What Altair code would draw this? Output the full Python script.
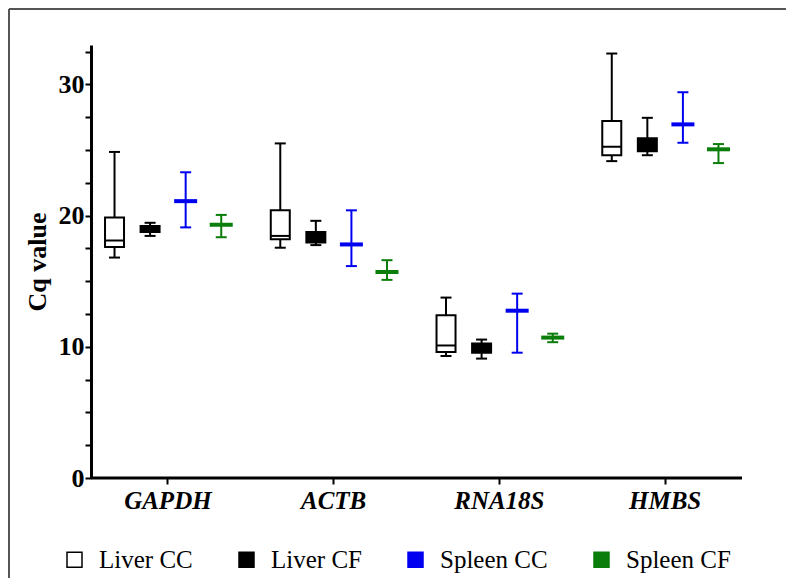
import altair as alt
import pandas as pd

genes = ["GAPDH", "ACTB", "RNA18S", "HMBS"]
groups = ["Liver CC", "Liver CF", "Spleen CC", "Spleen CF"]

# values per group, in gene order (GAPDH, ACTB, RNA18S, HMBS)
liver_cc_min = [16.8, 17.55, 9.3, 24.15]
liver_cc_q1 = [17.6, 18.2, 9.6, 24.6]
liver_cc_med = [18.1, 18.45, 10.1, 25.25]
liver_cc_q3 = [19.85, 20.4, 12.4, 27.2]
liver_cc_max = [24.85, 25.5, 13.75, 32.35]

liver_cf_min = [18.45, 17.75, 9.1, 24.6]
liver_cf_q1 = [18.75, 17.95, 9.55, 24.9]
liver_cf_med = [19.0, 18.35, 9.9, 25.4]
liver_cf_q3 = [19.2, 18.75, 10.25, 25.9]
liver_cf_max = [19.45, 19.6, 10.55, 27.45]

spleen_cc_low = [19.1, 16.15, 9.55, 25.55]
spleen_cc_mean = [21.1, 17.8, 12.75, 26.95]
spleen_cc_high = [23.3, 20.4, 14.05, 29.4]

spleen_cf_low = [18.35, 15.1, 10.35, 24.0]
spleen_cf_mean = [19.3, 15.7, 10.7, 25.05]
spleen_cf_high = [20.05, 16.6, 11.0, 25.45]

y_ticks = [0, 2.5, 5, 7.5, 10, 12.5, 15, 17.5, 20, 22.5, 25, 27.5, 30, 32.5]

stroke_colors = ["#000000", "#000000", "#0000f0", "#0a7d0a"]
fill_colors = ["#ffffff", "#000000", "#0000f0", "#0a7d0a"]

rows = []
series = [
    ("Liver CC", liver_cc_min, liver_cc_q1, liver_cc_med, liver_cc_q3, liver_cc_max),
    ("Liver CF", liver_cf_min, liver_cf_q1, liver_cf_med, liver_cf_q3, liver_cf_max),
    ("Spleen CC", spleen_cc_low, spleen_cc_mean, spleen_cc_mean, spleen_cc_mean, spleen_cc_high),
    ("Spleen CF", spleen_cf_low, spleen_cf_mean, spleen_cf_mean, spleen_cf_mean, spleen_cf_high),
]
for k, (name, lo, q1, c, q3, hi) in enumerate(series):
    for i, g in enumerate(genes):
        rows.append({"gene": g, "group": name, "low": lo[i], "q1": q1[i],
                     "center": c[i], "q3": q3[i], "high": hi[i],
                     "col": stroke_colors[k],
                     "kind": "box" if name.startswith("Liver") else "mean"})
df = pd.DataFrame(rows)

W, H = 651, 433
SERIF = "Liberation Serif"

x_enc = alt.X("gene:N", sort=genes,
              scale=alt.Scale(domain=genes, range=[-6, 657], paddingInner=0, paddingOuter=0),
              axis=alt.Axis(title=None, domain=False, ticks=True, tickSize=6, tickWidth=2,
                            tickColor="black", labelAngle=0, labelFont=SERIF,
                            labelFontSize=25, labelFontWeight="bold", labelFontStyle="italic",
                            labelColor="black", labelPadding=4))
xo_enc = alt.XOffset("group:N", sort=groups,
                     scale=alt.Scale(domain=groups, paddingInner=0, paddingOuter=0.33))

y_axis = alt.Axis(values=y_ticks, labelExpr="datum.value % 10 === 0 ? datum.label : ''",
                  grid=False, domainWidth=3, domainColor="black", tickColor="black",
                  tickWidth=2, tickSize=6, labelFont=SERIF, labelFontSize=26,
                  labelFontWeight="bold", labelColor="black", labelPadding=1,
                  titleFont=SERIF, titleFontSize=26, titleFontWeight="bold",
                  titleColor="black", titlePadding=8)
y_scale = alt.Scale(domain=[0, 33], nice=False, zero=True)

def Y(field):
    return alt.Y(f"{field}:Q", scale=y_scale, axis=y_axis, title="Cq value")

color_enc = alt.Color("col:N", scale=None)

base = alt.Chart(df)

whisker = base.mark_rule(strokeWidth=2, opacity=1).encode(
    x=x_enc, xOffset=xo_enc, y=Y("low"), y2="high", color=color_enc)

cap_lo = base.mark_tick(size=11, thickness=2, opacity=1).encode(
    x=x_enc, xOffset=xo_enc, y=Y("low"), color=color_enc)
cap_hi = base.mark_tick(size=11, thickness=2, opacity=1).encode(
    x=x_enc, xOffset=xo_enc, y=Y("high"), color=color_enc)

legend = alt.Legend(orient="none", legendX=-29, legendY=502, direction="horizontal",
                    columns=4, symbolType="square", symbolSize=225, symbolStrokeWidth=1.5,
                    labelFont=SERIF, labelFontSize=25, labelColor="black", labelOffset=12,
                    columnPadding=41, gridAlign="each", symbolOpacity=1)

box = base.mark_bar(width=19, strokeWidth=2, opacity=1).transform_filter(
    alt.datum.kind == "box").encode(
    x=x_enc, xOffset=xo_enc, y=Y("q1"), y2="q3",
    fill=alt.Fill("group:N", scale=alt.Scale(domain=groups, range=fill_colors),
                  legend=legend, title=None),
    stroke=alt.Stroke("group:N", scale=alt.Scale(domain=groups, range=stroke_colors),
                      legend=legend, title=None))

median = base.mark_tick(size=19, thickness=2, opacity=1).transform_filter(
    alt.datum.kind == "box").encode(
    x=x_enc, xOffset=xo_enc, y=Y("center"), color=color_enc)

mean = base.mark_tick(size=23, thickness=4, opacity=1).transform_filter(
    alt.datum.kind == "mean").encode(
    x=x_enc, xOffset=xo_enc, y=Y("center"), color=color_enc)

x_line = alt.Chart(pd.DataFrame({"v": [0]})).mark_rule(strokeWidth=3, color="black").encode(
    y=alt.Y("v:Q", scale=y_scale, axis=y_axis, title="Cq value"),
    x=alt.value(0), x2=alt.value(W))

frame_top = alt.Chart(pd.DataFrame({"v": [0]})).mark_rule(strokeWidth=2, color="#555555").encode(
    x=alt.value(-82), x2=alt.value(W + 44), y=alt.value(-36))
frame_left = alt.Chart(pd.DataFrame({"v": [0]})).mark_rule(strokeWidth=2, color="#555555").encode(
    x=alt.value(-82), y=alt.value(-36), y2=alt.value(H + 100))

chart = alt.layer(whisker, cap_lo, cap_hi, box, median, mean, x_line, frame_top, frame_left).properties(
    width=W, height=H,
    background="white",
    padding={"left": 83, "top": 37, "right": 44, "bottom": 100},
    autosize=alt.AutoSizeParams(type="none"),
).configure_view(strokeWidth=0)

chart.save("out.html", embed_options={"renderer": "svg", "actions": False})
